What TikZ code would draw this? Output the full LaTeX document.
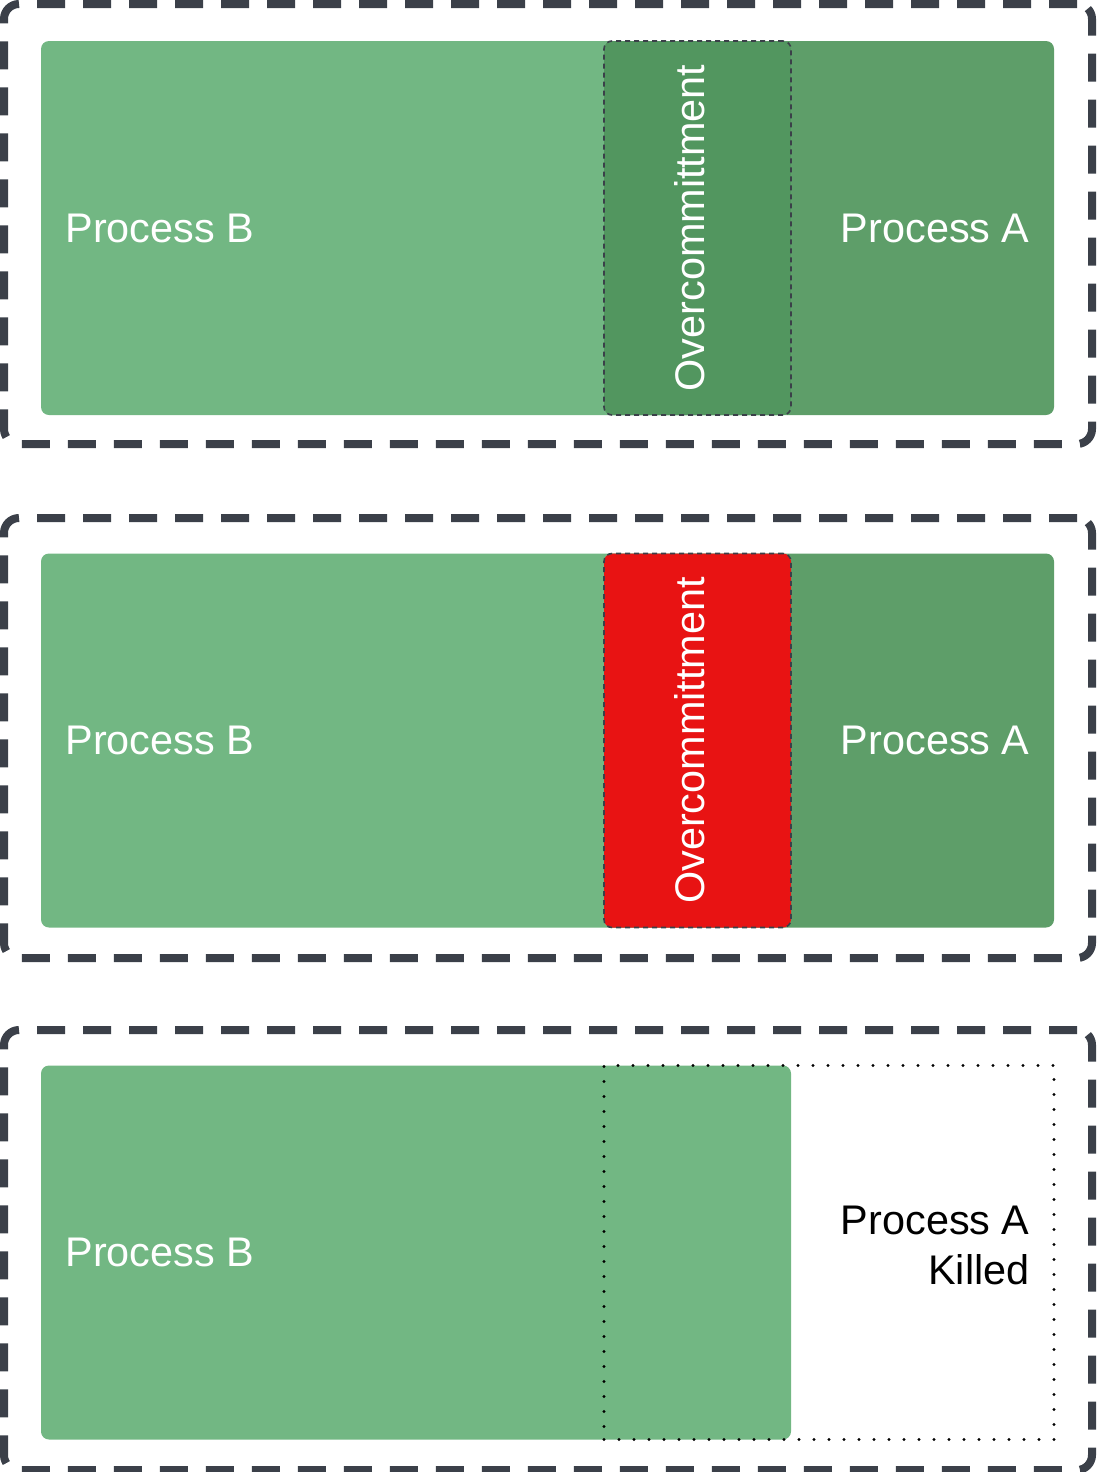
\documentclass[tikz,border=0pt]{standalone}
\usepackage{fontspec}
\setmainfont{Liberation Sans}
\usepackage{xcolor}
\usetikzlibrary{positioning}
\definecolor{frameGray}{HTML}{3B4049}
\definecolor{procBgreen}{HTML}{72B783}
\definecolor{procAgreen}{HTML}{5E9E69}
\definecolor{overGreen}{HTML}{52965F}
\definecolor{overRed}{HTML}{E81313}

\begin{document}
\begin{tikzpicture}[
  x=0.5pt, y=-0.5pt,
  frame/.style={rectangle, draw=frameGray, line width=4pt, rounded corners=7.5pt,
                dash pattern=on 14pt off 9pt, minimum width=544pt, minimum height=220pt, inner sep=0pt},
  procB/.style={rectangle, fill=procBgreen, rounded corners=4pt,
                minimum width=375pt, minimum height=187pt, inner sep=0pt},
  procA/.style={rectangle, fill=procAgreen, rounded corners=4pt,
                minimum width=225pt, minimum height=187pt, inner sep=0pt},
  overbox/.style={rectangle, draw=frameGray, line width=0.8pt, dash pattern=on 2.5pt off 2pt,
                  rounded corners=4pt, minimum width=93.5pt, minimum height=187pt, inner sep=0pt},
  killed/.style={rectangle, draw=black, line width=1.6pt, line cap=round, dash pattern=on 0pt off 7.5pt,
                 minimum width=225pt, minimum height=187pt, inner sep=0pt},
  lbl/.style={font=\fontsize{20.7pt}{25pt}\selectfont, text=white, inner sep=0pt}
]
\useasboundingbox (0,0) rectangle (1097,1472);

% Top: Process A and B share memory
\node[frame] (f1) at (548,224) {};
\node[procA] (a1) at (829,228) {};
\node[procB] (b1) at (416,228) {};
\node[overbox, fill=overGreen] (o1) at (697.5,228) {};
\node[lbl, anchor=west] (tb1) at (65,228) {Process B};
\node[lbl, anchor=east] (ta1) at (1030,228) {Process A};
\node[lbl, rotate=90] (to1) at (690,228) {Overcommittment};

% Middle: overcommitment hits
\node[frame] (f2) at (548,738) {};
\node[procA] (a2) at (829,740.5) {};
\node[procB] (b2) at (416,740.5) {};
\node[overbox, fill=overRed] (o2) at (697.5,740.5) {};
\node[lbl, anchor=west] (tb2) at (65,740.5) {Process B};
\node[lbl, anchor=east] (ta2) at (1030,740.5) {Process A};
\node[lbl, rotate=90] (to2) at (690,740.5) {Overcommittment};

% Bottom: Process A killed
\node[frame] (f3) at (548,1250) {};
\node[procB] (b3) at (416,1252.5) {};
\node[killed] (k3) at (829,1252.5) {};
\node[lbl, anchor=west] (tb3) at (65,1252.5) {Process B};
\node[lbl, anchor=east, text=black, align=right] (ta3) at (1030,1245) {Process A\\Killed};

\end{tikzpicture}
\end{document}
